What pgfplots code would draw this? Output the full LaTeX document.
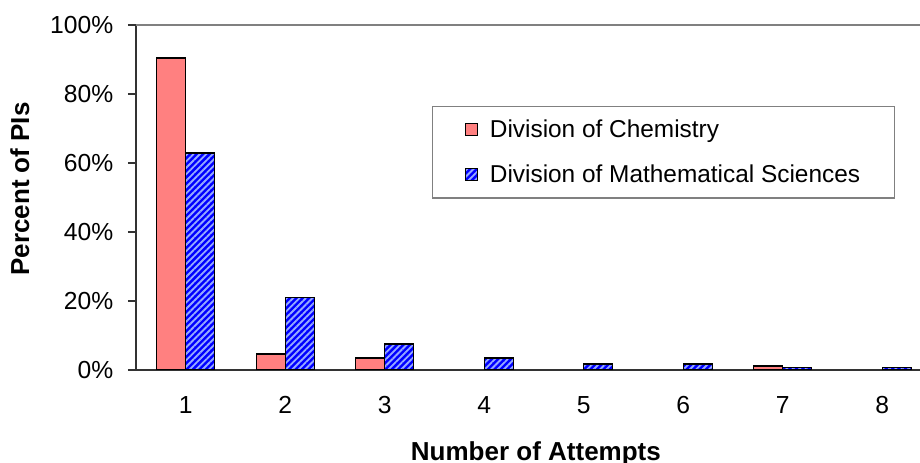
\documentclass[border=0pt]{standalone}
\usepackage{pgfplots}
\pgfplotsset{compat=1.18}
\usepackage{fontspec}
\setmainfont{Liberation Sans}
\usetikzlibrary{patterns.meta}
\definecolor{chemred}{RGB}{255,128,128}
\definecolor{mathblue}{RGB}{0,0,255}
\definecolor{stripeblue}{RGB}{150,170,255}
\pgfplotstableread{
x chem math
1 90.4 62.9
2 4.6 21.0
3 3.5 7.6
4 nan 3.5
5 nan 1.8
6 nan 1.8
7 1.2 0.7
8 nan 0.7
}\datatable
\begin{document}
\begin{tikzpicture}
\begin{axis}[
  at={(0,0)}, anchor=south west,
  scale only axis,
  width=597pt, height=258.75pt,
  xmin=0.5, xmax=8.5, ymin=0, ymax=100,
  ybar=0pt, bar width=21.75pt,
  unbounded coords=discard,
  axis x line*=bottom, axis y line*=left,
  axis line style={black!80, line width=0.9pt},
  /pgf/number format/assume math mode=true,
  xtick={1,2,3,4,5,6,7,8},
  xticklabels={1,2,3,4,5,6,7,8},
  major x tick style={draw=none},
  extra x ticks={0.5,1.5,2.5,3.5,4.5,5.5,6.5,7.5},
  extra x tick labels={},
  extra x tick style={tick style={black!80, line width=0.9pt}, major tick length=6pt, tick align=outside},
  ytick={0,20,40,60,80,100},
  yticklabels={0\%,20\%,40\%,60\%,80\%,100\%},
  ytick style={black!80, line width=0.9pt},
  major tick length=6pt, tick align=outside,
  ticklabel style={font=\fontsize{18.5}{22}\selectfont},
  xticklabel style={yshift=-10pt},
  yticklabel style={xshift=-7.5pt},
  xlabel={Number of Attempts},
  ylabel={Percent of PIs},
  label style={font=\bfseries\fontsize{19.5}{23}\selectfont},
  xlabel style={at={(axis description cs:0.5024,-0.2629)}, anchor=base},
  ylabel style={at={(axis description cs:-0.1344,0.5246)}, anchor=base, rotate=0},
  legend style={at={(rel axis cs:0.3719,0.7652)}, anchor=north west,
    draw=gray, line width=0.9pt, fill=white,
    font=\fontsize{18.3}{22}\selectfont,
    inner xsep=24pt, inner ysep=8pt, row sep=15pt,
    legend cell align=left},
  legend image code/.code={\draw[#1, line width=0.8pt] (0pt,-4.5pt) rectangle (9pt,4.5pt); \path (16pt,0pt);},
]
\addplot[draw=black, line width=1.1pt, fill=chemred] table[x=x,y=chem] {\datatable};
\addplot[draw=black, line width=1.1pt, fill=mathblue,
  postaction={pattern={Lines[angle=45,distance=3.4pt,line width=1.4pt]}, pattern color=stripeblue}] table[x=x,y=math] {\datatable};
\legend{Division of Chemistry, Division of Mathematical Sciences\rule[-12pt]{0pt}{1pt}}
\draw[gray, line width=0.9pt] (rel axis cs:0,1) -- (rel axis cs:1,1);
\end{axis}
\pgfresetboundingbox
\path[use as bounding box] (-102pt,-69.75pt) rectangle (588pt,277.5pt);
\end{tikzpicture}
\end{document}
